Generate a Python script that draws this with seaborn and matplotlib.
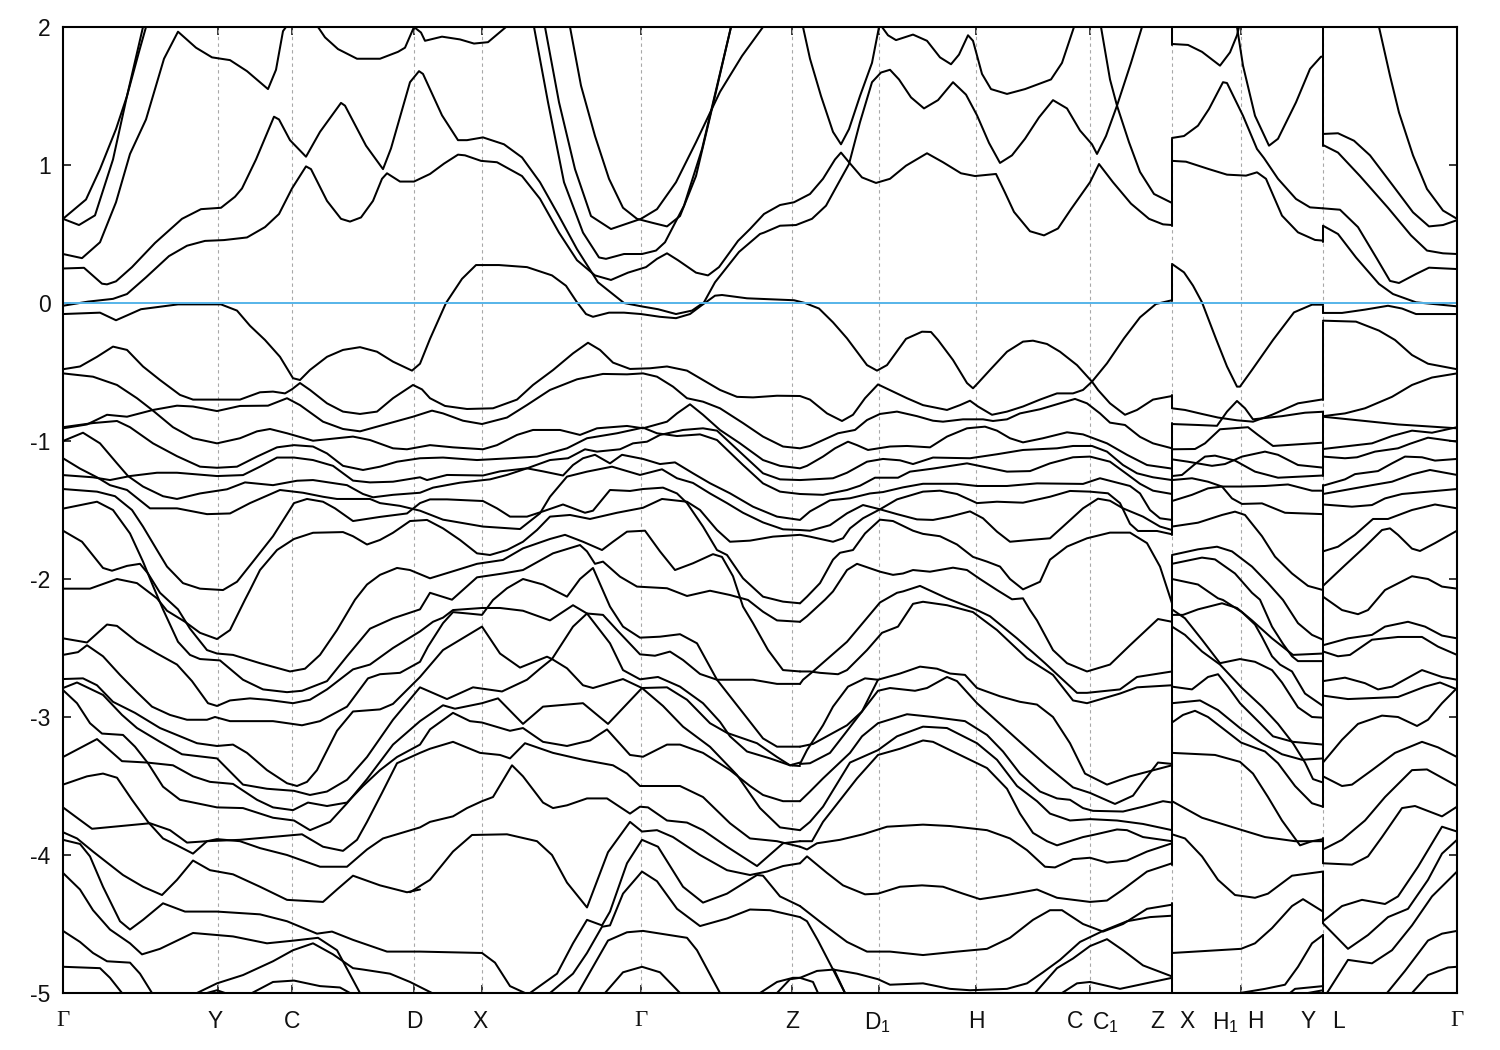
import pandas as pd
import matplotlib
matplotlib.use('Agg')
import matplotlib.pyplot as plt
import seaborn as sns

# k is path length along the zone path, energies in eV
k_lines = [218, 292, 414, 482, 641, 792, 879, 976, 1090, 1172, 1241, 1323]
e_ticks = [-5, -4, -3, -2, -1, 0, 1, 2]
k_label_pos = [63, 215, 292, 414, 480, 641, 792, 877, 976, 1075, 1105, 1157, 1187, 1225, 1255, 1308, 1338, 1457]
k_labels = ['Γ', 'Y', 'C', 'D', 'X', 'Γ', 'Z', 'D$_1$', 'H', 'C', 'C$_1$', 'Z', 'X', 'H$_1$', 'H', 'Y', 'L', 'Γ']

# first path segment, Gamma .. Z
a01_k = [63, 86, 100, 116, 127, 139, 146]
a01_e = [.61, .75, .97, 1.26, 1.50, 1.82, 2.0]
a02_k = [63, 79, 95, 113, 127, 143]
a02_e = [.61, .565, .635, 1.04, 1.50, 2.0]
a03_k = [63, 82, 100, 116, 130, 146, 164, 178, 196, 212, 230, 247, 268, 276, 283, 286]
a03_e = [.355, .325, .44, .73, 1.08, 1.33, 1.77, 1.966, 1.85, 1.78, 1.76, 1.68, 1.55, 1.69, 1.97, 2.0]
a04_k = [318, 325, 338, 357, 380, 398, 405, 414, 421, 425, 442, 460, 474, 488, 506]
a04_e = [2.0, 1.925, 1.84, 1.77, 1.77, 1.82, 1.85, 2.0, 1.96, 1.90, 1.93, 1.91, 1.88, 1.89, 2.0]
a05_k = [63, 88, 113, 127, 146, 169, 187, 205, 224, 247, 265, 279, 292, 306, 311, 327, 341, 350, 361, 373, 382, 387, 400, 414, 430, 444, 458, 465, 481, 497, 522, 540, 559, 577, 595, 611, 628, 646, 657, 667, 678, 696, 708, 719, 738, 750, 764, 780, 794, 810, 823, 835, 841, 849, 862, 876, 890, 906, 927, 943, 961, 975, 996, 1005, 1014, 1030, 1044, 1058, 1071, 1090, 1099, 1113, 1131, 1149, 1163, 1172]
a05_e = [-.02, .01, .03, .065, .186, .34, .415, .45, .456, .475, .55, .645, .83, .99, .97, .74, .61, .59, .62, .74, .90, .94, .88, .88, .935, 1.01, 1.075, 1.07, 1.03, 1.02, .92, .755, .51, .31, .20, .167, .22, .26, .32, .36, .31, .22, .20, .26, .45, .536, .645, .71, .73, .79, .90, 1.04, 1.09, 1.02, .91, .87, .90, .995, 1.085, 1.02, .94, .92, .935, .80, .66, .52, .49, .54, .68, .875, 1.007, .875, .72, .61, .57, .565]
a06_k = [63, 84, 102, 107, 116, 132, 155, 182, 201, 221, 235, 242, 256, 274, 279, 290, 306, 320, 341, 345, 366, 383, 391, 410, 419, 423, 442, 458, 467, 483, 504, 522, 540, 559, 577, 598, 624, 642, 658, 676, 692, 704, 715, 739, 760, 764, 780, 796, 812, 826, 837, 849, 860, 872, 881, 890, 899, 911, 924, 938, 953, 966, 977, 989, 1000, 1012, 1025, 1039, 1053, 1067, 1080, 1092, 1097, 1106, 1117, 1131, 1142]
a06_e = [.25, .255, .14, .135, .157, .26, .435, .61, .68, .69, .77, .83, 1.04, 1.35, 1.33, 1.18, 1.06, 1.24, 1.45, 1.43, 1.14, .97, 1.12, 1.60, 1.68, 1.66, 1.36, 1.18, 1.18, 1.20, 1.15, 1.055, .875, .63, .39, .15, 0.0, -.025, -.045, -.08, -.055, .005, .15, .37, .50, .51, .56, .565, .61, .705, .85, 1.007, 1.31, 1.60, 1.67, 1.69, 1.62, 1.49, 1.41, 1.47, 1.60, 1.51, 1.36, 1.16, 1.015, 1.07, 1.19, 1.345, 1.47, 1.41, 1.25, 1.15, 1.08, 1.21, 1.43, 1.74, 2.0]
a07_k = [534, 548, 564, 583, 599, 606, 624, 642, 656, 665, 684, 702, 731]
a07_e = [2.0, 1.455, .875, .51, .33, .32, .355, .355, .38, .44, .705, 1.115, 2.0]
a08_k = [545, 559, 575, 591, 611, 641, 657, 676, 696, 720, 742, 763]
a08_e = [2.0, 1.455, .97, .63, .536, .61, .68, .875, 1.165, 1.53, 1.79, 2.0]
a09_k = [570, 581, 595, 609, 623, 637, 653, 667, 680, 696, 715, 731]
a09_e = [2.0, 1.575, 1.21, .90, .69, .61, .58, .555, .63, .92, 1.50, 2.0]
a10_k = [803, 810, 821, 833, 841, 849, 860, 872, 879]
a10_e = [2.0, 1.77, 1.50, 1.24, 1.15, 1.26, 1.50, 1.74, 2.0]
a11_k = [882, 888, 896, 913, 927, 940, 951, 959, 968, 973, 982, 991, 1007, 1025, 1051, 1062, 1074]
a11_e = [2.0, 1.94, 1.905, 1.945, 1.90, 1.78, 1.73, 1.80, 1.94, 1.90, 1.66, 1.55, 1.515, 1.55, 1.62, 1.74, 2.0]
a12_k = [1101, 1110, 1117, 1129, 1140, 1154, 1172]
a12_e = [2.0, 1.62, 1.43, 1.165, .95, .79, .725]
a13_k = [63, 100, 116, 127, 141, 178, 221, 237, 250, 265, 280, 293, 300, 310, 327, 343, 360, 377, 393, 412, 420, 430, 446, 462, 476, 499, 527, 552, 566, 577, 586, 593, 609, 624, 641, 660, 676, 690, 701, 715, 722, 747, 794, 805, 819, 833, 847, 867, 877, 887, 906, 922, 931, 938, 953, 967, 973, 978, 990, 1007, 1023, 1033, 1047, 1060, 1077, 1092, 1107, 1124, 1140, 1156, 1172]
a13_e = [-.08, -.07, -.125, -.09, -.045, -.01, -.01, -.055, -.165, -.268, -.39, -.545, -.558, -.485, -.39, -.34, -.32, -.353, -.425, -.49, -.44, -.26, 0.0, .175, .275, .275, .26, .2, .125, .005, -.08, -.10, -.07, -.07, -.08, -.10, -.11, -.08, -.02, .053, .058, .034, .02, 0.0, -.04, -.14, -.256, -.45, -.49, -.45, -.26, -.208, -.21, -.268, -.413, -.58, -.618, -.58, -.485, -.353, -.28, -.273, -.297, -.353, -.45, -.57, -.437, -.256, -.104, -.007, .02]
a14_k = [63, 80, 97, 113, 127, 143, 160, 180, 193, 217, 240, 260, 273, 285, 292, 300, 310, 327, 343, 360, 377, 393, 413, 422, 430, 445, 467, 493, 517, 533, 553, 573, 588, 600, 613, 630, 650, 667, 687, 703, 720, 737, 753, 777, 800, 810, 827, 842, 853, 865, 878, 907, 923, 947, 960, 970, 978, 992, 1007, 1023, 1040, 1057, 1073, 1083, 1092, 1098, 1110, 1125, 1137, 1153, 1172]
a14_e = [-.48, -.46, -.39, -.316, -.34, -.46, -.558, -.666, -.70, -.70, -.70, -.647, -.642, -.655, -.625, -.58, -.63, -.727, -.787, -.804, -.787, -.69, -.594, -.626, -.69, -.746, -.768, -.763, -.70, -.594, -.486, -.365, -.288, -.34, -.432, -.478, -.473, -.46, -.49, -.558, -.63, -.68, -.684, -.672, -.674, -.70, -.80, -.855, -.81, -.69, -.59, -.69, -.74, -.775, -.74, -.708, -.75, -.81, -.787, -.75, -.70, -.655, -.655, -.63, -.57, -.63, -.727, -.81, -.775, -.70, -.674]
a15_k = [63, 93, 117, 137, 153, 173, 193, 217, 240, 257, 270, 287, 313, 337, 353, 370, 393, 407, 430, 453, 483, 497, 517, 533, 560, 580, 597, 627, 643, 667, 677, 690, 703, 720, 740, 763, 780, 800, 807, 823, 835, 848, 857, 868, 890, 907, 930, 947, 967, 985, 997, 1010, 1023, 1043, 1067, 1083, 1107, 1127, 1147, 1172]
a15_e = [-.51, -.534, -.594, -.69, -.78, -.90, -.98, -1.017, -.98, -.93, -.913, -.944, -.998, -.98, -.968, -.993, -1.053, -1.06, -1.03, -1.046, -1.06, -1.03, -.956, -.92, -.92, -.956, -.908, -.891, -.908, -.86, -.80, -.734, -.81, -.92, -1.017, -1.138, -1.18, -1.198, -1.18, -1.113, -1.053, -1.005, -1.03, -1.065, -1.04, -1.036, -1.046, -.968, -.908, -.896, -.925, -.98, -1.01, -.98, -.937, -.952, -1.017, -1.1, -1.174, -1.2]
a16_k = [63, 87, 107, 127, 153, 177, 193, 217, 240, 268, 287, 300, 323, 343, 360, 383, 413, 432, 443, 463, 482, 507, 527, 550, 577, 603, 627, 643, 657, 673, 687, 703, 720, 743, 763, 783, 800, 810, 827, 838, 855, 867, 880, 897, 917, 933, 943, 963, 983, 993, 1007, 1020, 1040, 1060, 1075, 1087, 1100, 1110, 1125, 1140, 1153, 1172]
a16_e = [-.908, -.88, -.81, -.824, -.775, -.744, -.75, -.783, -.746, -.744, -.69, -.74, -.86, -.913, -.93, -.884, -.824, -.78, -.80, -.853, -.877, -.83, -.739, -.63, -.553, -.514, -.517, -.51, -.534, -.606, -.69, -.715, -.763, -.87, -.968, -1.04, -1.053, -1.036, -.98, -.944, -.92, -.848, -.804, -.787, -.82, -.853, -.86, -.843, -.843, -.855, -.843, -.80, -.77, -.727, -.695, -.727, -.80, -.867, -.884, -.97, -1.017, -1.053]
a17_k = [63, 93, 117, 130, 153, 177, 200, 217, 237, 257, 277, 294, 313, 327, 343, 363, 380, 397, 420, 443, 477, 510, 537, 567, 587, 617, 643, 657, 677, 700, 717, 743, 763, 780, 800, 823, 847, 860, 875, 898, 910, 933, 967, 983, 1007, 1030, 1050, 1073, 1090, 1110, 1127, 1140, 1153, 1172]
a17_e = [-.90, -.87, -.855, -.9, -1.017, -1.11, -1.186, -1.194, -1.186, -1.113, -1.046, -1.03, -1.04, -1.09, -1.18, -1.21, -1.186, -1.15, -1.125, -1.12, -1.138, -1.125, -1.113, -1.053, -.98, -.944, -.903, -.944, -.964, -.952, -.993, -1.174, -1.307, -1.367, -1.384, -1.39, -1.355, -1.324, -1.266, -1.266, -1.222, -1.2, -1.162, -1.186, -1.222, -1.218, -1.162, -1.118, -1.113, -1.15, -1.24, -1.31, -1.36, -1.384]
a18_k = [63, 83, 100, 117, 128, 143, 163, 177, 200, 227, 245, 273, 297, 313, 347, 363, 373, 393, 420, 433, 460, 490, 507, 527, 550, 568, 585, 597, 620, 633, 647, 660, 683, 703, 717, 743, 763, 780, 800, 833, 847, 867, 883, 900, 913, 933, 970, 997, 1023, 1057, 1073, 1092, 1107, 1123, 1137, 1153, 1172]
a18_e = [-1.0, -.94, -1.017, -1.162, -1.254, -1.33, -1.40, -1.42, -1.38, -1.35, -1.30, -1.32, -1.288, -1.283, -1.32, -1.384, -1.408, -1.39, -1.375, -1.338, -1.302, -1.278, -1.246, -1.198, -1.138, -1.125, -1.06, -1.077, -1.06, -1.017, -1.005, -.956, -.92, -.908, -.925, -1.10, -1.234, -1.278, -1.283, -1.27, -1.23, -1.15, -1.13, -1.14, -1.167, -1.12, -1.125, -1.096, -1.065, -1.053, -1.036, -1.036, -1.077, -1.174, -1.234, -1.263, -1.283]
a19_k = [63, 93, 110, 130, 157, 177, 217, 243, 260, 277, 294, 313, 333, 353, 370, 393, 420, 427, 447, 483, 500, 527, 543, 563, 573, 583, 595, 610, 622, 643, 660, 675, 693, 710, 730, 753, 777, 800, 810, 830, 850, 870, 883, 903, 923, 957, 977, 1007, 1037, 1083, 1100, 1130, 1140, 1150, 1160, 1172]
a19_e = [-1.247, -1.263, -1.283, -1.254, -1.23, -1.23, -1.254, -1.247, -1.186, -1.12, -1.12, -1.138, -1.18, -1.287, -1.30, -1.295, -1.263, -1.283, -1.246, -1.25, -1.22, -1.198, -1.22, -1.25, -1.174, -1.125, -1.10, -1.162, -1.10, -1.13, -1.167, -1.155, -1.234, -1.306, -1.379, -1.476, -1.548, -1.572, -1.51, -1.43, -1.415, -1.38, -1.37, -1.336, -1.31, -1.31, -1.326, -1.326, -1.307, -1.311, -1.27, -1.326, -1.38, -1.5, -1.56, -1.572]
a22_k = [63, 80, 97, 110, 127, 150, 177, 207, 230, 250, 280, 303, 323, 337, 370, 380, 400, 420, 443, 483, 520, 540, 550, 567, 587, 612, 640, 662, 677, 693, 710, 727, 743, 763, 783, 800, 810, 830, 847, 863, 880, 897, 917, 933, 950, 970, 983, 997, 1010, 1030, 1050, 1063, 1083, 1098, 1110, 1123, 1143, 1160, 1172]
a22_e = [-1.125, -1.2, -1.263, -1.32, -1.355, -1.488, -1.488, -1.53, -1.525, -1.45, -1.355, -1.375, -1.404, -1.42, -1.42, -1.45, -1.47, -1.505, -1.57, -1.62, -1.638, -1.524, -1.404, -1.258, -1.222, -1.186, -1.246, -1.205, -1.27, -1.304, -1.38, -1.45, -1.52, -1.59, -1.64, -1.645, -1.65, -1.61, -1.524, -1.464, -1.495, -1.53, -1.568, -1.572, -1.548, -1.51, -1.56, -1.657, -1.73, -1.717, -1.705, -1.62, -1.488, -1.418, -1.433, -1.488, -1.548, -1.62, -1.645]
a23_k = [63, 97, 115, 132, 143, 157, 167, 183, 200, 223, 237, 253, 273, 294, 307, 323, 335, 353, 380, 407, 420, 430, 447, 483, 497, 510, 527, 543, 563, 585, 593, 610, 630, 643, 663, 677, 687, 703, 717, 727, 743, 763, 783, 800]
a23_e = [-1.348, -1.367, -1.4, -1.5, -1.62, -1.79, -1.91, -2.03, -2.07, -2.08, -2.02, -1.874, -1.69, -1.45, -1.42, -1.44, -1.488, -1.58, -1.55, -1.525, -1.45, -1.423, -1.423, -1.435, -1.488, -1.548, -1.548, -1.51, -1.46, -1.52, -1.505, -1.355, -1.362, -1.348, -1.338, -1.38, -1.45, -1.62, -1.79, -1.826, -1.995, -2.128, -2.164, -2.176]
a26_k = [63, 82, 103, 112, 127, 140, 148, 160, 178, 190, 207, 217, 233, 260, 290, 305, 320, 337, 355, 367, 380, 397, 410, 430, 457, 477, 503, 523, 550, 565, 583, 602, 613, 627, 645, 660, 675, 693, 713, 722, 733, 743, 753, 768, 783, 800]
a26_e = [-1.65, -1.73, -1.92, -1.94, -1.905, -1.89, -1.96, -2.1, -2.22, -2.36, -2.515, -2.54, -2.55, -2.61, -2.67, -2.65, -2.55, -2.37, -2.15, -2.04, -1.97, -1.92, -1.935, -1.995, -1.935, -1.89, -1.862, -1.778, -1.71, -1.68, -1.73, -1.79, -1.73, -1.657, -1.65, -1.80, -1.935, -1.886, -1.82, -1.84, -1.98, -2.2, -2.32, -2.514, -2.66, -2.67]
a27_k = [63, 90, 117, 137, 157, 167, 185, 200, 217, 230, 245, 250, 260, 277, 294, 313, 343, 353, 367, 380, 393, 410, 427, 443, 460, 477, 490, 507, 523, 537, 550, 570, 590, 617, 643, 662, 687, 700, 717, 730, 750, 773, 800, 810, 833, 843, 850, 863, 880, 897, 923, 940, 957, 977, 997, 1023, 1050, 1070, 1090, 1108, 1120, 1130, 1138, 1157, 1172]
a27_e = [-2.07, -2.07, -2.0, -2.03, -2.14, -2.23, -2.31, -2.39, -2.435, -2.37, -2.15, -2.08, -1.935, -1.79, -1.71, -1.665, -1.66, -1.69, -1.75, -1.717, -1.665, -1.58, -1.572, -1.633, -1.717, -1.814, -1.826, -1.79, -1.73, -1.645, -1.548, -1.536, -1.565, -1.52, -1.484, -1.42, -1.44, -1.5, -1.645, -1.73, -1.722, -1.693, -1.68, -1.693, -1.73, -1.705, -1.633, -1.56, -1.495, -1.423, -1.367, -1.36, -1.384, -1.45, -1.44, -1.447, -1.404, -1.362, -1.367, -1.379, -1.45, -1.6, -1.652, -1.652, -1.676]
a28_k = [63, 97, 113, 130, 143, 153, 163, 178, 190, 200, 220, 243, 263, 287, 302, 327, 347, 370, 393, 420, 430, 452, 477, 503, 523, 553, 580, 587, 595, 603, 620, 637, 667, 687, 710, 730, 748, 763, 777, 800]
a28_e = [-1.49, -1.44, -1.5, -1.67, -1.874, -2.05, -2.22, -2.455, -2.55, -2.58, -2.59, -2.73, -2.8, -2.82, -2.81, -2.74, -2.56, -2.36, -2.285, -2.22, -2.1, -2.15, -1.988, -1.96, -1.935, -1.814, -1.754, -1.8, -1.89, -1.874, -1.983, -2.055, -2.067, -2.123, -2.085, -2.116, -2.152, -2.237, -2.30, -2.31]
a32_k = [63, 87, 107, 117, 137, 157, 177, 192, 208, 217, 230, 250, 267, 293, 310, 327, 353, 370, 393, 420, 433, 443, 453, 482, 500, 523, 550, 573, 587, 610, 623, 640, 658, 680, 703, 720, 730, 747, 770, 790, 800]
a32_e = [-2.43, -2.46, -2.33, -2.34, -2.455, -2.54, -2.62, -2.74, -2.9, -2.92, -2.88, -2.865, -2.875, -2.9, -2.875, -2.8, -2.655, -2.62, -2.5, -2.38, -2.31, -2.28, -2.225, -2.21, -2.21, -2.23, -2.3, -2.19, -2.25, -2.466, -2.66, -2.727, -2.71, -2.78, -2.9, -3.035, -3.14, -3.25, -3.3, -3.35, -3.355]
a34_k = [63, 78, 87, 103, 120, 137, 152, 170, 187, 207, 215, 230, 250, 273, 302, 320, 347, 368, 380, 400, 420, 428, 443, 453, 468, 482, 493, 507, 523, 543, 567, 580, 593, 610, 623, 640, 660, 680, 697, 717, 743, 763, 777, 800]
a34_e = [-2.55, -2.53, -2.48, -2.56, -2.695, -2.82, -2.925, -2.985, -3.02, -3.02, -3.0, -3.03, -3.03, -3.03, -3.06, -3.03, -2.925, -2.72, -2.69, -2.68, -2.6, -2.49, -2.32, -2.24, -2.25, -2.26, -2.152, -2.067, -2.0, -2.04, -2.128, -2.0, -1.92, -2.2, -2.345, -2.425, -2.418, -2.40, -2.466, -2.73, -2.97, -3.155, -3.215, -3.215]
a35_k = [63, 83, 97, 113, 135, 160, 197, 217, 233, 247, 267, 287, 297, 307, 317, 337, 353, 380, 393, 420, 443, 482, 500, 520, 547, 552, 567, 583, 593, 623, 642, 663, 683, 710, 737, 760, 780, 800]
a35_e = [-2.725, -2.72, -2.77, -2.89, -2.97, -3.08, -3.19, -3.21, -3.2, -3.26, -3.385, -3.48, -3.5, -3.47, -3.385, -3.1, -2.96, -2.945, -2.905, -2.71, -2.515, -2.345, -2.54, -2.642, -2.563, -2.58, -2.647, -2.77, -2.79, -2.725, -2.79, -2.92, -3.07, -3.216, -3.42, -3.66, -3.8, -3.82]
a36_k = [63, 77, 103, 122, 137, 160, 182, 217, 230, 243, 267, 294, 310, 327, 347, 367, 393, 420, 447, 473, 502, 527, 540, 552, 573, 587, 603, 617, 640, 655, 670, 683, 700, 717, 753, 777, 800]
a36_e = [-2.79, -2.75, -2.84, -2.985, -3.08, -3.18, -3.27, -3.3, -3.395, -3.49, -3.52, -3.535, -3.565, -3.54, -3.455, -3.29, -3.02, -2.785, -2.87, -2.785, -2.815, -2.73, -2.65, -2.58, -2.345, -2.25, -2.26, -2.37, -2.546, -2.556, -2.526, -2.587, -2.688, -2.73, -2.73, -2.76, -2.76]
a37_k = [63, 77, 90, 102, 123, 135, 148, 163, 180, 217, 243, 273, 294, 310, 330, 347, 367, 393, 420, 443, 455, 482, 498, 523, 543, 583, 608, 642, 667, 687, 710, 727, 757, 777, 790, 800]
a37_e = [-2.805, -2.9, -3.045, -3.12, -3.13, -3.215, -3.335, -3.505, -3.6, -3.655, -3.66, -3.73, -3.75, -3.82, -3.76, -3.625, -3.45, -3.2, -3.03, -2.915, -2.94, -2.9, -2.865, -3.05, -2.925, -2.9, -3.05, -2.79, -2.785, -2.875, -3.045, -3.115, -3.19, -3.29, -3.35, -3.33]
a38_k = [63, 97, 122, 147, 173, 193, 210, 233, 257, 273, 293, 308, 327, 347, 363, 380, 397, 420, 430, 453, 470, 482, 510, 523, 543, 567, 590, 607, 630, 643, 667, 680, 703, 730, 750, 763, 783, 800]
a38_e = [-3.29, -3.16, -3.32, -3.33, -3.35, -3.43, -3.47, -3.485, -3.6, -3.655, -3.675, -3.62, -3.645, -3.62, -3.5, -3.385, -3.29, -3.2, -3.09, -2.97, -3.03, -3.04, -3.1, -3.08, -3.18, -3.21, -3.17, -3.09, -3.275, -3.288, -3.2, -3.2, -3.26, -3.385, -3.5, -3.565, -3.61, -3.61]
a39_k = [63, 77, 92, 150, 170, 187, 207, 240, 302, 323, 343, 357, 367, 382, 397, 420, 430, 453, 480, 500, 510, 525, 553, 583, 613, 627, 640, 680, 703, 730, 750, 777, 800]
a39_e = [-3.655, -3.73, -3.81, -3.77, -3.82, -3.91, -3.9, -3.89, -3.85, -3.94, -3.97, -3.89, -3.76, -3.55, -3.335, -3.26, -3.23, -3.18, -3.26, -3.275, -3.3, -3.19, -3.26, -3.31, -3.35, -3.41, -3.5, -3.5, -3.58, -3.77, -3.88, -3.9, -3.94]
a40_k = [63, 87, 103, 117, 132, 148, 163, 177, 193, 207, 217, 240, 260, 287, 320, 347, 367, 383, 420, 430, 453, 467, 482, 493, 512, 523, 543, 553, 567, 587, 607, 630, 640, 648, 667, 687, 703, 727, 757, 783, 800]
a40_e = [-3.49, -3.43, -3.41, -3.44, -3.6, -3.76, -3.88, -3.93, -3.99, -3.9, -3.885, -3.9, -3.95, -4.0, -4.085, -4.085, -3.96, -3.88, -3.8, -3.76, -3.72, -3.66, -3.61, -3.58, -3.35, -3.43, -3.62, -3.66, -3.64, -3.59, -3.59, -3.7, -3.65, -3.655, -3.75, -3.765, -3.82, -3.94, -4.08, -3.915, -3.9]
a41_k = [63, 77, 93, 123, 143, 162, 177, 193, 210, 233, 260, 287, 323, 337, 353, 380, 407, 420]
a41_e = [-3.835, -3.88, -3.975, -4.145, -4.23, -4.29, -4.18, -4.04, -4.11, -4.14, -4.23, -4.325, -4.34, -4.25, -4.15, -4.22, -4.27, -4.25]
a42_k = [63, 80, 90, 103, 120, 130, 143, 163, 185, 217, 260, 287, 317, 332, 353, 387, 420, 482, 495, 510, 525]
a42_e = [-3.89, -3.92, -4.01, -4.23, -4.48, -4.54, -4.47, -4.35, -4.41, -4.41, -4.43, -4.48, -4.57, -4.555, -4.615, -4.7, -4.7, -4.71, -4.78, -4.95, -5.0]
a43_k = [63, 80, 93, 110, 130, 142, 160, 193, 233, 267, 294, 318, 337, 360]
a43_e = [-4.13, -4.25, -4.4, -4.54, -4.64, -4.72, -4.68, -4.565, -4.59, -4.64, -4.62, -4.6, -4.69, -5.0]
a44_k = [63, 80, 93, 107, 130, 140, 152]
a44_e = [-4.55, -4.63, -4.71, -4.77, -4.78, -4.86, -5.0]
a45_k = [63, 100, 110, 122]
a45_e = [-4.81, -4.82, -4.89, -5.0]
a46_k = [197, 217, 243, 273, 293, 313, 333, 353, 363, 390, 410, 432]
a46_e = [-5.0, -4.93, -4.87, -4.77, -4.69, -4.64, -4.72, -4.82, -4.83, -4.86, -4.92, -5.0]
a47_k = [207, 217, 225]
a47_e = [-5.0, -4.98, -5.0]
a48_k = [252, 273, 294, 320, 340, 350]
a48_e = [-5.0, -4.92, -4.91, -4.95, -4.96, -5.0]
a49_k = [410, 430, 453, 472, 507, 537, 552, 567, 587, 608, 630, 642, 657, 673, 700, 727, 750, 767, 783, 800]
a49_e = [-4.27, -4.18, -3.975, -3.855, -3.85, -3.9, -4.0, -4.2, -4.38, -3.98, -3.76, -3.83, -3.82, -3.87, -4.0, -4.11, -4.145, -4.12, -4.08, -4.06]
a50_k = [530, 557, 573, 587, 602, 610, 627, 642, 658, 683, 703, 727, 757, 763, 780, 800]
a50_e = [-5.0, -4.86, -4.64, -4.47, -4.51, -4.41, -4.06, -3.89, -3.94, -4.23, -4.345, -4.28, -4.145, -4.15, -4.3, -4.37]
a51_k = [550, 573, 587, 602, 610, 623, 642, 657, 677, 700, 727, 750, 770, 800]
a51_e = [-5.0, -4.86, -4.71, -4.52, -4.51, -4.28, -4.12, -4.19, -4.39, -4.515, -4.46, -4.395, -4.4, -4.45]
a52_k = [578, 593, 608, 627, 643, 687, 697, 720]
a52_e = [-5.0, -4.81, -4.62, -4.56, -4.55, -4.6, -4.69, -5.0]
a53_k = [605, 623, 642, 660, 680]
a53_e = [-5.0, -4.85, -4.81, -4.85, -5.0]
a54_k = [760, 777, 793, 800, 813, 818]
a54_e = [-5.0, -4.92, -4.89, -4.89, -4.92, -5.0]
a55_k = [777, 790, 800, 817, 834, 845]
a55_e = [-5.0, -4.9, -4.89, -4.84, -4.83, -5.0]

# Z .. C .. Z, lower bands
a56_k = [800, 807, 820, 833, 840, 853, 865, 880, 893, 913, 923, 940, 957, 973, 987, 1000, 1010, 1023, 1040, 1050, 1067, 1087, 1110, 1130, 1147, 1160, 1172]
a56_e = [-2.176, -2.128, -2.03, -1.86, -1.81, -1.79, -1.67, -1.57, -1.58, -1.65, -1.673, -1.69, -1.75, -1.84, -1.874, -1.91, -2.0, -2.075, -2.02, -1.86, -1.765, -1.705, -1.664, -1.664, -1.74, -1.91, -2.176]
a57_k = [800, 807, 825, 833, 847, 857, 880, 893, 903, 913, 930, 953, 967, 980, 997, 1012, 1023, 1030, 1037, 1053, 1067, 1087, 1110, 1130, 1158, 1172]
a57_e = [-2.31, -2.27, -2.15, -2.09, -1.935, -1.89, -1.947, -1.97, -1.96, -1.935, -1.947, -1.918, -1.935, -2.0, -2.08, -2.147, -2.14, -2.225, -2.3, -2.515, -2.61, -2.67, -2.62, -2.48, -2.29, -2.31]
a58_k = [800, 803, 813, 847, 880, 897, 903, 920, 947, 977, 990, 1017, 1045, 1077, 1087, 1120, 1137, 1172]
a58_e = [-2.76, -2.73, -2.67, -2.455, -2.17, -2.1, -2.09, -2.05, -2.14, -2.225, -2.27, -2.43, -2.61, -2.825, -2.825, -2.8, -2.71, -2.67]
a59_k = [800, 810, 820, 838, 847, 867, 882, 898, 913, 923, 947, 973, 997, 1027, 1053, 1073, 1087, 1120, 1137, 1172]
a59_e = [-2.67, -2.67, -2.68, -2.69, -2.66, -2.515, -2.39, -2.345, -2.18, -2.165, -2.19, -2.24, -2.37, -2.575, -2.695, -2.88, -2.9, -2.83, -2.785, -2.77]
a60_k = [800, 813, 847, 862, 878, 900, 920, 937, 950, 965, 977, 1000, 1020, 1037, 1053, 1070, 1085, 1107, 1130, 1172]
a60_e = [-3.215, -3.195, -3.06, -2.96, -2.73, -2.685, -2.635, -2.65, -2.685, -2.695, -2.79, -2.85, -2.89, -2.91, -3.0, -3.19, -3.41, -3.49, -3.43, -3.35]
a61_k = [800, 807, 823, 833, 848, 865, 878]
a61_e = [-3.34, -3.24, -3.06, -2.925, -2.78, -2.72, -2.73]
a62_k = [800, 810, 830, 845, 862, 878, 890, 915, 927, 947, 957, 977, 1000, 1023, 1047, 1073, 1090, 1115, 1133, 1143, 1158, 1172]
a62_e = [-3.34, -3.335, -3.26, -3.12, -2.96, -2.81, -2.79, -2.81, -2.79, -2.71, -2.74, -2.9, -3.05, -3.2, -3.355, -3.51, -3.55, -3.63, -3.57, -3.47, -3.33, -3.34]
a63_k = [800, 810, 823, 850, 862, 878, 907, 933, 965, 987, 1003, 1020, 1040, 1057, 1070, 1083, 1093, 1123, 1143, 1163, 1172]
a63_e = [-3.61, -3.54, -3.445, -3.26, -3.14, -3.045, -2.98, -3.0, -3.03, -3.13, -3.25, -3.41, -3.54, -3.59, -3.6, -3.66, -3.68, -3.685, -3.65, -3.61, -3.62]
a64_k = [800, 810, 823, 850, 878, 897, 923, 947, 977, 997, 1017, 1037, 1050, 1070, 1090, 1117, 1143, 1172]
a64_e = [-3.82, -3.76, -3.65, -3.33, -3.24, -3.14, -3.07, -3.08, -3.19, -3.31, -3.5, -3.61, -3.7, -3.75, -3.74, -3.75, -3.775, -3.82]
a65_k = [800, 812, 823, 857, 878, 900, 923, 933, 960, 987, 1007, 1020, 1033, 1047, 1057, 1083, 1093, 1117, 1127, 1143, 1172]
a65_e = [-3.9, -3.9, -3.76, -3.445, -3.275, -3.23, -3.17, -3.18, -3.275, -3.37, -3.52, -3.7, -3.84, -3.9, -3.93, -3.87, -3.855, -3.815, -3.82, -3.87, -3.9]
a66_k = [800, 807, 817, 840, 863, 887, 923, 950, 987, 1010, 1027, 1045, 1055, 1073, 1090, 1107, 1127, 1147, 1172]
a66_e = [-3.94, -3.96, -3.915, -3.89, -3.85, -3.795, -3.78, -3.79, -3.82, -3.88, -3.965, -4.085, -4.09, -4.03, -4.02, -4.055, -4.04, -3.975, -3.915]
a67_k = [800, 807, 827, 843, 865, 878, 900, 922, 943, 963, 980, 1007, 1037, 1057, 1090, 1107, 1123, 1147, 1172]
a67_e = [-4.06, -4.01, -4.13, -4.22, -4.285, -4.28, -4.23, -4.22, -4.23, -4.28, -4.32, -4.29, -4.25, -4.31, -4.34, -4.33, -4.25, -4.12, -4.06]
a68_k = [800, 823, 847, 867, 890, 923, 957, 987, 1010, 1033, 1050, 1062, 1083, 1103, 1123, 1147, 1172]
a68_e = [-4.37, -4.5, -4.63, -4.7, -4.7, -4.725, -4.7, -4.68, -4.6, -4.47, -4.4, -4.4, -4.5, -4.555, -4.5, -4.39, -4.36]
a69_k = [800, 807, 818, 833, 857, 878, 890, 923, 950, 970, 1007, 1027, 1043, 1060, 1080, 1103, 1127, 1150, 1172]
a69_e = [-4.45, -4.48, -4.62, -4.83, -4.86, -4.9, -4.94, -4.93, -4.97, -4.98, -4.97, -4.93, -4.85, -4.76, -4.63, -4.55, -4.48, -4.45, -4.44]
a70_k = [833, 845]
a70_e = [-4.83, -5.0]
a71_k = [1035, 1057, 1073, 1090, 1107, 1123, 1143, 1172]
a71_e = [-5.0, -4.82, -4.75, -4.66, -4.61, -4.69, -4.8, -4.88]
a72_k = [1062, 1077, 1090, 1120, 1172]
a72_e = [-5.0, -4.93, -4.92, -4.97, -4.89]

# second segment, X .. H1 .. Y
b01_k = [1172, 1188, 1202, 1220, 1230, 1237, 1239]
b01_e = [1.877, 1.87, 1.82, 1.72, 1.816, 1.94, 2.0]
b02_k = [1172, 1184, 1198, 1209, 1223, 1227, 1243, 1257, 1264, 1278, 1296, 1310, 1323]
b02_e = [1.196, 1.21, 1.285, 1.406, 1.6, 1.594, 1.357, 1.116, 1.05, .9, .754, .693, .686]
b03_k = [1172, 1186, 1209, 1227, 1246, 1257, 1266, 1282, 1298, 1315, 1323]
b03_e = [1.03, 1.024, .97, .93, .923, .947, .9, .633, .512, .457, .452]
b04_k = [1237, 1243, 1255, 1269, 1278, 1296, 1310, 1321, 1323]
b04_e = [2.0, 1.72, 1.357, 1.14, 1.19, 1.454, 1.696, 1.785, 1.785]
b05_k = [1172, 1184, 1193, 1202, 1216, 1227, 1237, 1240, 1252, 1273, 1294, 1312, 1323]
b05_e = [.283, .222, .126, .005, -.26, -.46, -.606, -.606, -.485, -.268, -.068, -.012, -.012]
b06_k = [1172, 1185, 1202, 1218, 1237, 1253, 1272, 1298, 1323]
b06_e = [-.763, -.775, -.804, -.83, -.85, -.86, -.81, -.727, -.698]
b07_k = [1172, 1198, 1217, 1227, 1237, 1245, 1253, 1282, 1305, 1323]
b07_e = [-.877, -.884, -.89, -.787, -.71, -.763, -.843, -.82, -.795, -.788]
b08_k = [1172, 1195, 1205, 1220, 1248, 1258, 1273, 1323]
b08_e = [-1.06, -1.058, -1.017, -.915, -.9, -.956, -1.036, -1.012]
b09_k = [1172, 1188, 1212, 1225, 1242, 1265, 1278, 1298, 1323]
b09_e = [-1.133, -1.15, -1.18, -1.167, -1.113, -1.077, -1.1, -1.174, -1.193]
b10_k = [1172, 1182, 1195, 1205, 1215, 1235, 1255, 1278, 1323]
b10_e = [-1.254, -1.246, -1.167, -1.113, -1.106, -1.142, -1.222, -1.266, -1.25]
b11_k = [1172, 1192, 1208, 1222, 1232, 1242, 1262, 1285, 1323]
b11_e = [-1.283, -1.27, -1.295, -1.33, -1.416, -1.456, -1.452, -1.52, -1.53]
b12_k = [1172, 1192, 1208, 1222, 1242, 1265, 1288, 1312, 1323]
b12_e = [-1.435, -1.39, -1.343, -1.33, -1.33, -1.326, -1.315, -1.36, -1.36]
b13_k = [1172, 1198, 1222, 1235, 1245, 1262, 1275, 1292, 1308, 1323]
b13_e = [-1.62, -1.592, -1.536, -1.512, -1.536, -1.69, -1.838, -1.96, -2.05, -2.08]
b14_k = [1172, 1198, 1217, 1232, 1252, 1268, 1283, 1298, 1312, 1323]
b14_e = [-1.826, -1.785, -1.766, -1.8, -1.91, -2.03, -2.152, -2.32, -2.405, -2.44]
b15_k = [1172, 1202, 1215, 1235, 1252, 1260, 1272, 1283, 1292, 1298, 1323]
b15_e = [-1.89, -1.845, -1.858, -1.96, -2.1, -2.15, -2.345, -2.47, -2.56, -2.595, -2.595]
b16_k = [1172, 1183, 1198, 1222, 1237, 1252, 1272, 1293, 1323]
b16_e = [-2.26, -2.26, -2.22, -2.176, -2.21, -2.3, -2.43, -2.55, -2.54]
b17_k = [1172, 1185, 1202, 1220, 1240, 1255, 1272, 1282, 1298, 1312, 1323]
b17_e = [-2.22, -2.285, -2.44, -2.61, -2.58, -2.6, -2.66, -2.75, -2.93, -3.0, -3.005]
b18_k = [1172, 1185, 1202, 1220, 1242, 1262, 1278, 1293, 1305, 1313, 1323]
b18_e = [-2.345, -2.405, -2.525, -2.62, -2.79, -2.925, -3.05, -3.19, -3.33, -3.45, -3.475]
b19_k = [1172, 1192, 1208, 1218, 1228, 1240, 1258, 1273, 1293, 1323]
b19_e = [-2.78, -2.8, -2.71, -2.69, -2.78, -2.9, -3.03, -3.14, -3.18, -3.2]
b20_k = [1172, 1200, 1218, 1240, 1262, 1282, 1302, 1323]
b20_e = [-2.9, -2.88, -2.95, -3.08, -3.19, -3.27, -3.31, -3.3]
b21_k = [1172, 1183, 1195, 1208, 1225, 1241, 1265, 1278, 1295, 1312, 1323]
b21_e = [-3.04, -2.985, -2.955, -3.0, -3.095, -3.185, -3.25, -3.335, -3.5, -3.625, -3.65]
b22_k = [1172, 1215, 1240, 1253, 1268, 1282, 1295, 1300, 1312, 1323]
b22_e = [-3.26, -3.275, -3.325, -3.41, -3.58, -3.75, -3.88, -3.93, -3.9, -3.885]
b23_k = [1172, 1182, 1202, 1240, 1265, 1295, 1323]
b23_e = [-3.61, -3.65, -3.73, -3.815, -3.87, -3.9, -3.9]
b24_k = [1172, 1185, 1202, 1218, 1235, 1255, 1268, 1292, 1323]
b24_e = [-3.85, -3.88, -4.01, -4.18, -4.29, -4.31, -4.28, -4.15, -4.12]
b25_k = [1172, 1241, 1255, 1272, 1292, 1303, 1323]
b25_e = [-4.71, -4.68, -4.64, -4.53, -4.37, -4.32, -4.41]
b26_k = [1240, 1265, 1285, 1298, 1312, 1323]
b26_e = [-5.0, -4.97, -4.94, -4.81, -4.64, -4.58]
b27_k = [1290, 1295, 1323]
b27_e = [-5.0, -4.97, -4.95]
b28_k = [1308, 1323]
b28_e = [-5.0, -4.98]
b29_k = [1172, 1198, 1218, 1223, 1242, 1255, 1262, 1272, 1280, 1292, 1305, 1323]
b29_e = [-2.0, -2.04, -2.14, -2.152, -2.24, -2.33, -2.42, -2.56, -2.62, -2.67, -2.83, -2.92]

# third segment, L .. Gamma
c01_k = [1379, 1390, 1399, 1413, 1427, 1443, 1457]
c01_e = [2.0, 1.647, 1.38, 1.07, .826, .67, .61]
c02_k = [1323, 1338, 1354, 1370, 1393, 1413, 1429, 1443, 1457]
c02_e = [1.225, 1.23, 1.176, 1.07, .85, .657, .555, .565, .6]
c03_k = [1323, 1338, 1360, 1388, 1411, 1427, 1443, 1457]
c03_e = [1.145, 1.09, .92, .69, .49, .38, .36, .355]
c04_k = [1323, 1340, 1358, 1377, 1390, 1399, 1416, 1429, 1457]
c04_e = [.686, .676, .55, .32, .16, .145, .21, .256, .246]
c05_k = [1323, 1338, 1356, 1379, 1393, 1416, 1457]
c05_e = [.56, .5, .33, .138, .065, .005, -.024]
c06_k = [1323, 1342, 1365, 1388, 1402, 1416, 1457]
c06_e = [-.072, -.072, -.048, -.02, -.04, -.08, -.08]
c07_k = [1323, 1356, 1379, 1395, 1412, 1428, 1457]
c07_e = [-.128, -.135, -.2, -.268, -.377, -.44, -.48]
c08_k = [1323, 1345, 1365, 1392, 1412, 1432, 1457]
c08_e = [-.82, -.8, -.763, -.68, -.594, -.54, -.51]
c09_k = [1323, 1365, 1398, 1432, 1457]
c09_e = [-.824, -.855, -.88, -.896, -.908]
c10_k = [1323, 1372, 1392, 1412, 1432, 1457]
c10_e = [-1.058, -1.017, -.964, -.925, -.94, -.9]
c11_k = [1323, 1345, 1357, 1375, 1398, 1410, 1428, 1445, 1457]
c11_e = [-1.113, -1.125, -1.118, -1.077, -1.053, -1.02, -.976, -.993, -1.005]
c12_k = [1323, 1345, 1355, 1378, 1392, 1405, 1422, 1435, 1457]
c12_e = [-1.324, -1.278, -1.24, -1.218, -1.162, -1.113, -1.118, -1.142, -1.13]
c13_k = [1323, 1372, 1392, 1412, 1430, 1457]
c13_e = [-1.384, -1.32, -1.295, -1.242, -1.21, -1.246]
c14_k = [1323, 1352, 1372, 1385, 1402, 1428, 1457]
c14_e = [-1.46, -1.476, -1.464, -1.416, -1.384, -1.367, -1.348]
c15_k = [1323, 1338, 1355, 1373, 1388, 1412, 1435, 1457]
c15_e = [-1.8, -1.766, -1.68, -1.565, -1.565, -1.5, -1.46, -1.488]
c16_k = [1323, 1345, 1365, 1382, 1390, 1398, 1412, 1420, 1435, 1457]
c16_e = [-2.05, -1.9, -1.766, -1.645, -1.633, -1.68, -1.78, -1.797, -1.74, -1.65]
c17_k = [1323, 1342, 1358, 1368, 1385, 1412, 1428, 1442, 1457]
c17_e = [-2.128, -2.225, -2.255, -2.225, -2.08, -1.98, -2.0, -2.055, -2.07]
c18_k = [1323, 1348, 1372, 1385, 1408, 1425, 1442, 1457]
c18_e = [-2.48, -2.43, -2.405, -2.345, -2.31, -2.345, -2.41, -2.43]
c19_k = [1323, 1338, 1350, 1372, 1398, 1422, 1438, 1457]
c19_e = [-2.525, -2.56, -2.55, -2.44, -2.42, -2.42, -2.49, -2.55]
c20_k = [1323, 1345, 1365, 1378, 1392, 1422, 1442, 1457]
c20_e = [-2.74, -2.715, -2.755, -2.8, -2.78, -2.66, -2.71, -2.73]
c21_k = [1323, 1348, 1398, 1425, 1440, 1457]
c21_e = [-2.845, -2.87, -2.855, -2.78, -2.75, -2.8]
c22_k = [1323, 1342, 1358, 1382, 1398, 1417, 1428, 1442, 1457]
c22_e = [-3.33, -3.165, -3.05, -2.99, -3.0, -3.065, -3.02, -2.9, -2.79]
c23_k = [1323, 1342, 1352, 1372, 1395, 1422, 1438, 1457]
c23_e = [-3.43, -3.5, -3.49, -3.385, -3.26, -3.18, -3.22, -3.29]
c24_k = [1323, 1342, 1365, 1385, 1412, 1427, 1457]
c24_e = [-3.96, -3.89, -3.75, -3.58, -3.385, -3.38, -3.5]
c25_k = [1323, 1352, 1368, 1382, 1402, 1415, 1442, 1457]
c25_e = [-4.06, -4.07, -4.01, -3.87, -3.66, -3.645, -3.72, -3.65]
c26_k = [1323, 1342, 1362, 1385, 1398, 1418, 1442, 1457]
c26_e = [-4.48, -4.37, -4.325, -4.355, -4.3, -4.085, -3.795, -3.83]
c27_k = [1323, 1348, 1368, 1388, 1408, 1428, 1442, 1457]
c27_e = [-4.495, -4.68, -4.58, -4.45, -4.39, -4.18, -3.99, -3.89]
c28_k = [1327, 1348, 1372, 1392, 1412, 1432, 1457]
c28_e = [-5.0, -4.76, -4.785, -4.69, -4.51, -4.3, -4.12]
c29_k = [1387, 1405, 1428, 1442, 1457]
c29_e = [-5.0, -4.84, -4.62, -4.57, -4.55]
c30_k = [1412, 1428, 1448, 1457]
c30_e = [-5.0, -4.87, -4.815, -4.81]

# jumps where the path is broken, drawn as part of the bands
jump_z_low = [1.87, .56, .015, -.76, -1.68, -4.07, -5.0]
jump_z_high = [2.0, 1.19, .275, -.67, -.87, -1.83, -4.35]
jump_y_low = [1.14, .44, -.07, -.70, -1.25, -3.65, -4.06, -4.49, -5.0]
jump_y_high = [2.0, .56, -.02, -.14, -.79, -1.32, -3.88, -4.12, -4.58]

names = sorted(n[:-2] for n in list(globals()) if len(n) == 5 and n[0] in 'abc' and n.endswith('_k'))
bad = [(n, len(globals()[n + '_k']), len(globals()[n + '_e'])) for n in names
       if len(globals()[n + '_k']) != len(globals()[n + '_e'])]
if bad:
    raise SystemExit(f'length mismatch {bad}')

rows = []
for n in names:
    for kv, ev in zip(globals()[n + '_k'], globals()[n + '_e']):
        rows.append({'band': n, 'k': kv, 'E': ev})
for i, (lo, hi) in enumerate(zip(jump_z_low, jump_z_high)):
    rows += [{'band': f'jz{i}', 'k': 1172, 'E': lo}, {'band': f'jz{i}', 'k': 1172, 'E': hi}]
for i, (lo, hi) in enumerate(zip(jump_y_low, jump_y_high)):
    rows += [{'band': f'jy{i}', 'k': 1323, 'E': lo}, {'band': f'jy{i}', 'k': 1323, 'E': hi}]
df = pd.DataFrame(rows)

sns.set_style('white')
plt.rcParams['font.family'] = ['Liberation Sans', 'DejaVu Sans']
plt.rcParams['axes.unicode_minus'] = False
plt.rcParams['mathtext.fontset'] = 'custom'
plt.rcParams['mathtext.rm'] = 'Liberation Sans'
plt.rcParams['mathtext.default'] = 'rm'

fig = plt.figure(figsize=(15, 10.5), dpi=100)
ax = fig.add_axes([63 / 1500, 1 - 993 / 1050, 1394 / 1500, 966 / 1050])

for kv in k_lines:
    ax.axvline(kv, color='#a8a8a8', lw=0.8, dashes=(3, 3), zorder=1)

sns.lineplot(data=df, x='k', y='E', units='band', estimator=None, sort=False,
             color='black', lw=1.45, legend=False, ax=ax, zorder=3)
ax.axhline(0, color='#56b4e9', lw=1.4, zorder=4)

ax.set_xlim(63, 1457)
ax.set_ylim(-5, 2)
ax.set_xlabel('')
ax.set_ylabel('')
ax.set_yticks(e_ticks)
ax.set_yticklabels([str(v) for v in e_ticks], fontsize=16.5)
ax.tick_params(axis='y', which='major', direction='in', length=6, width=1.3, left=True, right=True, pad=9, labelcolor='#111111')
ax.xaxis.remove_overlapping_locs = False
ax.set_xticks(k_lines)
ax.set_xticklabels([])
ax.tick_params(axis='x', which='major', direction='in', length=6, width=1.3, bottom=True, top=True)
ax.set_xticks(k_label_pos, minor=True)
ax.set_xticklabels(k_labels, minor=True, fontsize=16.5)
ax.tick_params(axis='x', which='minor', length=0, pad=12, labelcolor='#111111')
for lab in ax.get_xticklabels(minor=True):
    if lab.get_text() == 'Γ':
        lab.set_family(['Liberation Serif'])
for side in ax.spines.values():
    side.set_linewidth(1.5)
    side.set_color('black')
    side.set_zorder(5)

fig.savefig('out.png', dpi=100)
